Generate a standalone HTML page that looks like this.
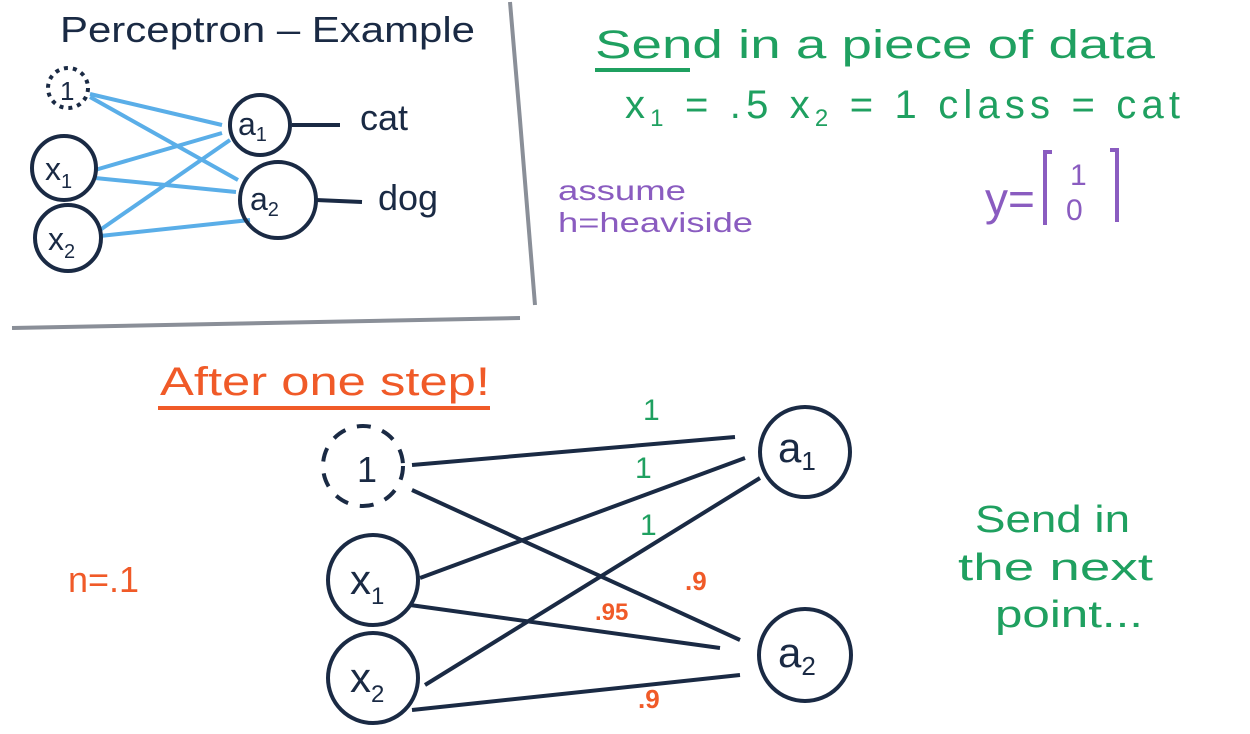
<!DOCTYPE html>
<html><head><meta charset="utf-8"><style>
html,body{margin:0;padding:0;background:#fff;}
svg{display:block;}
text{font-family:"Liberation Sans",sans-serif;}
</style></head><body>
<svg width="1250" height="734" viewBox="0 0 1250 734" xmlns="http://www.w3.org/2000/svg">
<rect width="1250" height="734" fill="#fff"/>
<path d="M510 2 L520 120 L535 305" stroke="#8a8f98" stroke-width="4" fill="none"/>
<path d="M12 328 L520 318" stroke="#8a8f98" stroke-width="4" fill="none"/>

<text x="60" y="42" font-size="36" fill="#1a2a44" textLength="415" lengthAdjust="spacingAndGlyphs">Perceptron – Example</text>

<g stroke="#5aaee8" stroke-width="4" fill="none">
<line x1="90" y1="94" x2="222" y2="125"/>
<line x1="90" y1="97" x2="238" y2="180"/>
<line x1="95" y1="170" x2="222" y2="133"/>
<line x1="95" y1="178" x2="236" y2="192"/>
<line x1="100" y1="230" x2="230" y2="140"/>
<line x1="100" y1="236" x2="250" y2="220"/>
</g>
<g stroke="#1a2a44" stroke-width="4" fill="none">
<circle cx="68" cy="88" r="20" stroke-dasharray="4 5"/>
<circle cx="64" cy="168" r="32"/>
<circle cx="68" cy="238" r="33"/>
<circle cx="260" cy="125" r="30"/>
<circle cx="278" cy="200" r="38"/>
<line x1="292" y1="125" x2="340" y2="125"/>
<line x1="316" y1="200" x2="362" y2="202"/>
</g>
<g fill="#1a2a44" font-size="32">
<text x="60" y="100" font-size="26">1</text>
<text x="45" y="180">x<tspan font-size="20" dy="8">1</tspan></text>
<text x="48" y="250">x<tspan font-size="20" dy="8">2</tspan></text>
<text x="238" y="135">a<tspan font-size="20" dy="6">1</tspan></text>
<text x="250" y="210">a<tspan font-size="20" dy="6">2</tspan></text>
<text x="360" y="130" font-size="36">cat</text>
<text x="378" y="210" font-size="36">dog</text>
</g>

<g fill="#1fa060" font-size="40">
<text x="595" y="58" textLength="560" lengthAdjust="spacingAndGlyphs">Send  in  a  piece  of  data</text>
<text x="625" y="118" textLength="555" lengthAdjust="spacing">x<tspan font-size="24" dy="8">1</tspan><tspan dy="-8"> = .5      x</tspan><tspan font-size="24" dy="8">2</tspan><tspan dy="-8"> = 1     class = cat</tspan></text>
</g>
<line x1="595" y1="70" x2="690" y2="70" stroke="#1fa060" stroke-width="4"/>

<g fill="#8a5cc0">
<text x="558" y="200" font-size="28" textLength="128" lengthAdjust="spacingAndGlyphs">assume</text>
<text x="558" y="232" font-size="28" textLength="195" lengthAdjust="spacingAndGlyphs">h=heaviside</text>
<text x="985" y="215" font-size="46">y=</text>
</g>
<g stroke="#8a5cc0" stroke-width="4" fill="none">
<path d="M1052 152 L1045 152 L1045 225"/>
<path d="M1110 150 L1117 150 L1117 222"/>
</g>
<text x="1070" y="185" font-size="30" fill="#8a5cc0">1</text>
<text x="1066" y="220" font-size="30" fill="#8a5cc0">0</text>

<g fill="#f05a28">
<text x="160" y="395" font-size="40" textLength="330" lengthAdjust="spacingAndGlyphs">After one step!</text>
<text x="68" y="592" font-size="36">n=.1</text>
<text x="685" y="590" font-size="26" font-weight="bold">.9</text>
<text x="595" y="620" font-size="24" font-weight="bold">.95</text>
<text x="638" y="708" font-size="26" font-weight="bold">.9</text>
</g>
<line x1="158" y1="408" x2="490" y2="408" stroke="#f05a28" stroke-width="4"/>

<g stroke="#1a2a44" stroke-width="4" fill="none">
<line x1="412" y1="465" x2="735" y2="437"/>
<line x1="412" y1="490" x2="740" y2="640"/>
<line x1="420" y1="578" x2="745" y2="458"/>
<line x1="410" y1="605" x2="720" y2="648"/>
<line x1="425" y1="685" x2="760" y2="478"/>
<line x1="412" y1="710" x2="740" y2="675"/>
<circle cx="363" cy="466" r="40" stroke-dasharray="14 12"/>
<circle cx="373" cy="580" r="45"/>
<circle cx="373" cy="678" r="45"/>
<circle cx="805" cy="452" r="45"/>
<circle cx="805" cy="655" r="46"/>
</g>
<g fill="#1a2a44" font-size="42">
<text x="357" y="482" font-size="36">1</text>
<text x="350" y="594">x<tspan font-size="24" dy="10">1</tspan></text>
<text x="350" y="692">x<tspan font-size="24" dy="10">2</tspan></text>
<text x="778" y="462">a<tspan font-size="26" dy="8">1</tspan></text>
<text x="778" y="667">a<tspan font-size="26" dy="8">2</tspan></text>
</g>
<g fill="#1fa060" font-size="30">
<text x="643" y="420">1</text>
<text x="635" y="478">1</text>
<text x="640" y="535">1</text>
</g>
<g fill="#1fa060" font-size="38">
<text x="975" y="532" textLength="155" lengthAdjust="spacingAndGlyphs">Send in</text>
<text x="958" y="580" textLength="195" lengthAdjust="spacingAndGlyphs">the next</text>
<text x="995" y="627" textLength="148" lengthAdjust="spacingAndGlyphs">point...</text>
</g>
</svg>
</body></html>
